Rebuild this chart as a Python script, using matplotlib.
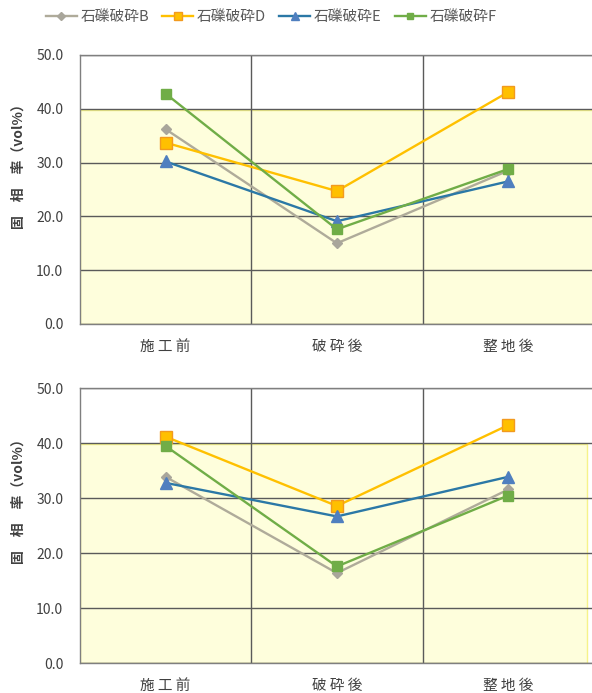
import matplotlib
matplotlib.use("Agg")
import matplotlib.pyplot as plt
from matplotlib.patches import Rectangle

plt.rcParams['font.family'] = ['Noto Sans CJK JP', 'DejaVu Sans']

# 測定時期
stages = ["施 工 前", "破 砕 後", "整 地 後"]
series_names = ["石礫破砕B", "石礫破砕D", "石礫破砕E", "石礫破砕F"]

# 固相率 (vol%) 上段
upper_B = [36.2, 15.0, 28.5]
upper_D = [33.7, 24.7, 43.1]
upper_E = [30.2, 19.1, 26.5]
upper_F = [42.8, 17.6, 28.8]

# 固相率 (vol%) 下段
lower_B = [33.9, 16.4, 31.6]
lower_D = [41.2, 28.6, 43.3]
lower_E = [32.8, 26.7, 33.9]
lower_F = [39.5, 17.6, 30.5]

styles = [
    dict(color="#AFAB9A", marker="D", markersize=5.5, mfc="#A9A69B", mec="#A9A69B"),
    dict(color="#FFC000", marker="s", markersize=8, mfc="#FFC000", mec="#F29A1F"),
    dict(color="#2B78A6", marker="^", markersize=8, mfc="#4F7FBF", mec="#4F7FBF"),
    dict(color="#70AD47", marker="s", markersize=7, mfc="#70AD47", mec="#70AD47"),
]

fig = plt.figure(figsize=(5.92, 6.93), dpi=100)
ax_top = fig.add_axes([0.1351, 0.5325, 0.868, 0.3882])
ax_bot = fig.add_axes([0.1351, 0.0429, 0.868, 0.3968])


def draw_panel(ax, data, band_right, label_y):
    ax.set_xlim(-0.5, 2.5)
    ax.set_ylim(0, 50)
    ax.add_patch(Rectangle((-0.5, 0), band_right + 0.5, 39.8,
                           facecolor="#FEFEDC", edgecolor="#F6F38A",
                           linewidth=1.0, zorder=0))
    for vals, st, name in zip(data, styles, series_names):
        ax.plot(range(len(stages)), vals, linewidth=1.7, label=name, zorder=3,
                **st)
    ax.set_yticks([0, 10, 20, 30, 40, 50])
    ax.set_yticklabels([f"{v:.1f}" for v in [0, 10, 20, 30, 40, 50]],
                       color="#404040", fontsize=10)
    ax.set_xticks(range(len(stages)))
    ax.set_xticklabels(stages, fontsize=10.5, color="#404040")
    ax.set_xticks([0.5, 1.5], minor=True)
    ax.tick_params(which="both", length=0)
    ax.tick_params(axis="x", pad=11.5)
    ax.tick_params(axis="y", pad=12)
    ax.grid(axis="y", which="major", color="#5A5A5A", linewidth=1.0, zorder=1)
    ax.grid(axis="x", which="minor", color="#5A5A5A", linewidth=1.0, zorder=1)
    ax.set_axisbelow(True)
    for sp in ax.spines.values():
        sp.set_color("#7F7F7F")
        sp.set_linewidth(1.0)
    ax.set_facecolor("white")
    ax.set_ylabel("固\u3000相\u3000率（vol%）", fontsize=10, fontweight="bold",
                  color="#404040")
    ax.yaxis.set_label_coords(-0.105, label_y)


draw_panel(ax_top, [upper_B, upper_D, upper_E, upper_F], 2.5, 0.6)
draw_panel(ax_bot, [lower_B, lower_D, lower_E, lower_F], 2.46, 0.6)

handles, labels = ax_top.get_legend_handles_labels()
fig.legend(handles, labels, loc="center", bbox_to_anchor=(0.458, 0.975), ncol=4,
           frameon=False, fontsize=10.6, handlelength=2.1, columnspacing=0.9,
           handletextpad=0.25, markerscale=0.7, labelcolor="#5A5A5A")

fig.savefig("out.png", dpi=100)
